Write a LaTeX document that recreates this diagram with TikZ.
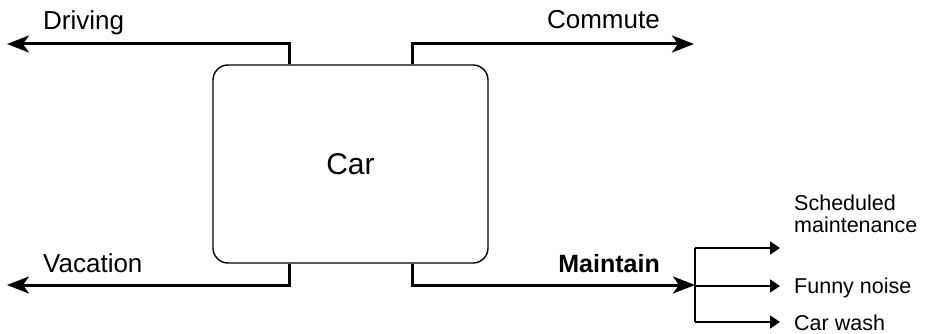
\documentclass[tikz,border=0pt]{standalone}
\usepackage{fontspec}
\setmainfont{Liberation Sans}
\usetikzlibrary{arrows.meta}
\begin{document}
\begin{tikzpicture}[x=1pt,y=-1pt,
  carbox/.style={draw, line width=1.4pt, rounded corners=15pt, minimum width=275pt, minimum height=198pt, inner sep=0pt},
  flow/.style={line width=3pt, -{Stealth[length=22pt,width=17pt,inset=6pt]}},
  branch/.style={line width=1.8pt},
  branchflow/.style={line width=1.8pt, -{Triangle[length=10pt,width=13pt]}},
  biglabel/.style={font=\fontsize{26}{28}\selectfont, inner sep=0pt},
  smalllabel/.style={font=\fontsize{21.5}{22}\selectfont, inner sep=0pt, anchor=base west, align=left}
]
\useasboundingbox (0,0) rectangle (927,334);

% central box
\node[carbox, font=\fontsize{30}{32}\selectfont] (car) at (350.5,164) {Car};

% turning points and free ends of the four flows
\coordinate (dUp)   at (289,44);
\coordinate (dEnd)  at (7,44);
\coordinate (cUp)   at (412,44);
\coordinate (cEnd)  at (694,44);
\coordinate (vDn)   at (289,285);
\coordinate (vEnd)  at (7,285);
\coordinate (mDn)   at (412,285);
\coordinate (mEnd)  at (695,285);

\draw[flow] (car.north -| dUp) -- (dUp) -- (dEnd);
\draw[flow] (car.north -| cUp) -- (cUp) -- (cEnd);
\draw[flow] (car.south -| vDn) -- (vDn) -- (vEnd);
\draw[flow] (car.south -| mDn) -- (mDn) -- (mEnd);

% flow labels
\node[biglabel, anchor=base west] (lDriving)  at (43,30)  {Driving};
\node[biglabel, anchor=base east] (lCommute)  at (660,29) {Commute};
\node[biglabel, anchor=base west] (lVacation) at (43,272) {Vacation};
\node[biglabel, anchor=base east, font=\fontsize{25}{27}\selectfont\bfseries] (lMaintain) at (660,272) {Maintain};

% branching of the maintenance flow
\coordinate (bTop) at (695,248);
\coordinate (bMid) at (695,286);
\coordinate (bBot) at (695,322);
\coordinate (tTop) at (780,248);
\coordinate (tMid) at (780,286);
\coordinate (tBot) at (780,322);

\draw[branch] (bTop) -- (bBot);
\draw[branchflow] (bTop) -- (tTop);
\draw[branchflow] (bMid) -- (tMid);
\draw[branchflow] (bBot) -- (tBot);

\node[smalllabel] (lSched) at (794,233) {Scheduled\\maintenance};
\node[smalllabel] (lNoise) at (794,293) {Funny noise};
\node[smalllabel] (lWash)  at (794,330) {Car wash};
\end{tikzpicture}
\end{document}
